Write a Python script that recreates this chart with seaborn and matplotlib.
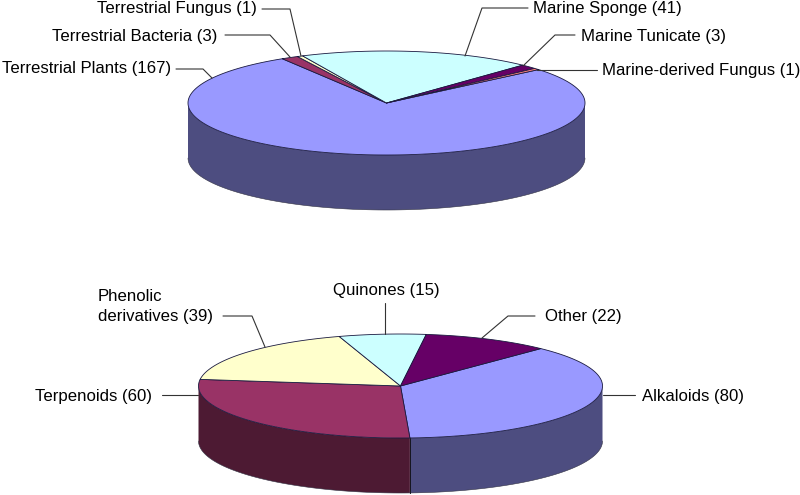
import numpy as np
import matplotlib
matplotlib.use('Agg')
import matplotlib.pyplot as plt
import seaborn as sns

# Data
source_counts = [167, 3, 1, 41, 3, 1]
source_hex = ['#9999FF', '#993366', '#FFFFCC', '#CCFFFF', '#660066', '#FF8080']

class_counts = [80, 60, 39, 15, 22]
class_hex = ['#9999FF', '#993366', '#FFFFCC', '#CCFFFF', '#660066']

source_names = ['Terrestrial Fungus', 'Terrestrial Bacteria', 'Terrestrial Plants',
                'Marine Sponge', 'Marine Tunicate', 'Marine-derived Fungus']
source_label_counts = [1, 3, 167, 41, 3, 1]
class_names = ['Phenolic\nderivatives', 'Quinones', 'Other', 'Terpenoids', 'Alkaloids']
class_label_counts = [39, 15, 22, 60, 80]

# Layout, in image pixels
top_pie = dict(start=40, cx=386.5, cy=103, rx=198.5, ry=52, depth=55)
bottom_pie = dict(start=46, cx=400.5, cy=386, rx=202, ry=52, depth=55)

source_label_pos = [(257, 8, 'right'), (217, 37, 'right'), (171, 68, 'right'),
                    (533, 8, 'left'), (581, 37, 'left'), (602, 70, 'left')]
class_label_pos = [(98, 306.5, 'left'), (386, 291, 'center'), (545, 316, 'left'),
                   (152, 396, 'right'), (642, 396, 'left')]

source_leaders = [[(262, 9), (290, 9), (301, 56)],
                  [(225, 35), (270, 35), (290, 57)],
                  [(176, 69), (203, 69), (212, 78)],
                  [(528, 8), (482, 8), (465, 56)],
                  [(575, 35), (555, 35), (523, 66)],
                  [(537, 70), (597, 70)]]
class_leaders = [[(223, 316), (252, 316), (265, 347)],
                 [(385, 303), (385, 334)],
                 [(535, 316), (508, 316), (482, 338)],
                 [(162, 395), (198, 395)],
                 [(603, 395), (635, 395)]]

sns.set_theme(style='white')
plt.rcParams['font.family'] = ['Liberation Sans', 'DejaVu Sans']

fig, ax = plt.subplots(figsize=(8, 4.95), dpi=100)
ax.set_position([0, 0, 1, 1])
ax.set_xlim(0, 800)
ax.set_ylim(495, 0)
ax.axis('off')


def ellipse_xy(t_deg, cx, cy, rx, ry):
    t = np.radians(t_deg)
    return cx + rx * np.cos(t), cy - ry * np.sin(t)


def draw_pie(counts, hex_colors, start, cx, cy, rx, ry, depth):
    palette = sns.color_palette(hex_colors)
    shares = np.array(counts) / sum(counts) * 360
    ends = start - np.cumsum(shares)
    starts = ends + shares

    # Rim first, only the front half of the disc shows it
    for a0, a1, col in zip(starts, ends, palette):
        for turn in (0, -360, 360):
            lo = max(a1 + turn, -180)
            hi = min(a0 + turn, 0)
            if hi <= lo:
                continue
            t = np.linspace(lo, hi, 120)
            x, y = ellipse_xy(t, cx, cy, rx, ry)
            rim_x = np.r_[x, x[::-1]]
            rim_y = np.r_[y, y[::-1] + depth]
            shade = tuple(c * 0.5 for c in col)
            ax.fill(rim_x, rim_y, color=shade, lw=0, zorder=2)
            ax.plot(x, y + depth, color='#333344', lw=0.4, zorder=2.5)
            for edge in (lo, hi):
                if edge > -180 and edge < 0:
                    ex, ey = ellipse_xy(edge, cx, cy, rx, ry)
                    ax.plot([ex, ex], [ey, ey + depth], color='#15151f', lw=0.6, zorder=2.5)

    # Top faces
    for a0, a1, col in zip(starts, ends, palette):
        t = np.linspace(a0, a1, 300)
        x, y = ellipse_xy(t, cx, cy, rx, ry)
        ax.fill(np.r_[cx, x], np.r_[cy, y], facecolor=col, edgecolor='#1a1a40',
                lw=0.6, joinstyle='round', zorder=3)


def draw_labels(names, label_counts, positions, leaders):
    for name, n, (x, y, ha), pts in zip(names, label_counts, positions, leaders):
        ax.text(x, y, f'{name} ({n})', ha=ha, va='center', fontsize=12.1,
                color='black', linespacing=1.4, zorder=5)
        ax.plot([p[0] for p in pts], [p[1] for p in pts], color='#333333', lw=0.8, zorder=4)


draw_pie(source_counts, source_hex, **top_pie)
draw_pie(class_counts, class_hex, **bottom_pie)
draw_labels(source_names, source_label_counts, source_label_pos, source_leaders)
draw_labels(class_names, class_label_counts, class_label_pos, class_leaders)

fig.savefig('out.png', dpi=100, facecolor='white')
